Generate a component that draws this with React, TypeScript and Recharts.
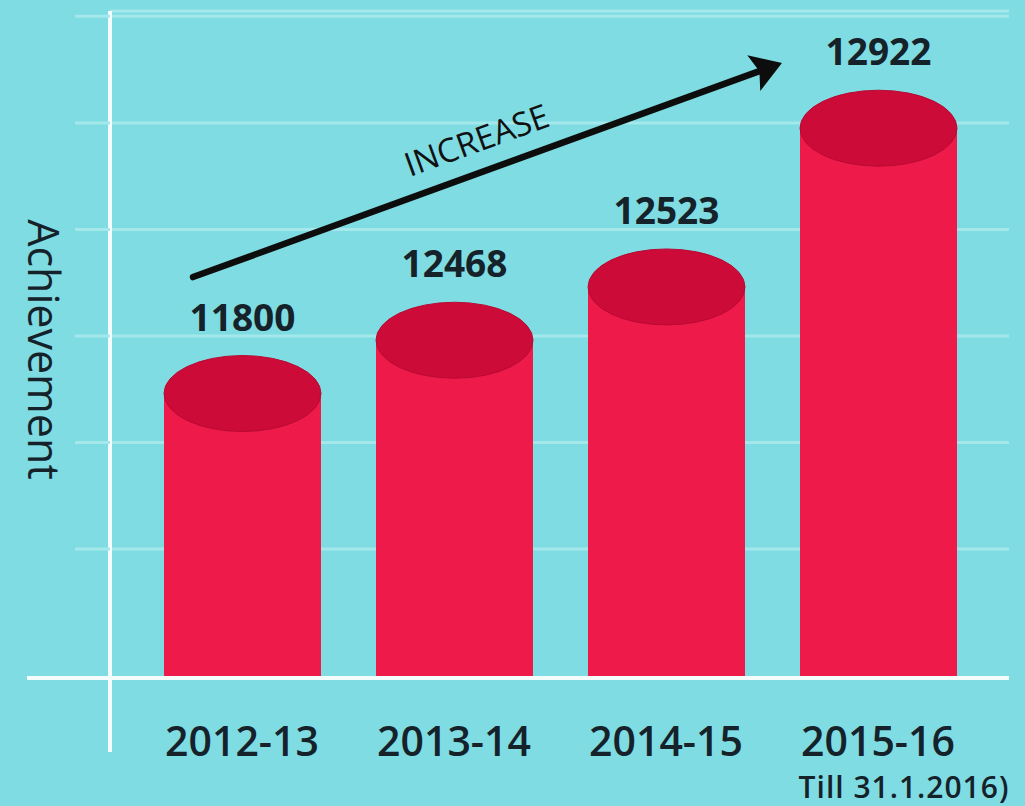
import React from "react";
import {
  BarChart,
  Bar,
  XAxis,
  YAxis,
  CartesianGrid,
  LabelList,
  ReferenceLine,
} from "recharts";

const years = ["2012-13", "2013-14", "2014-15", "2015-16"];
const achievement = [11800, 12468, 12523, 12922];
// bar heights as drawn in the infographic (one gridline step = 100)
const drawnHeight = [267, 317, 367, 516];
const yTicks = [0, 121, 221, 321, 421, 521, 621];
const footnotes = ["", "", "", "Till 31.1.2016)"];
// "INCREASE" arrow: guide line through the first and last bar centres,
// drawn from/to these fractions of that span
const arrowLevels = [393, 610];
const arrowSpan = [-0.077, 0.849];

const data = years.map((year, i) => ({
  year,
  height: drawnHeight[i],
  achievement: achievement[i],
}));

const BG = "#7edce2";
const BODY = "#ee1a49";
const TOP = "#cc0b38";
const INK = "#16222a";
const GRID = "#a4e8ec";
const AXIS = "#f4fcfc";
const FONT = "'Open Sans', 'DejaVu Sans', sans-serif";

const Cylinder = (props: any) => {
  const { x, y, width, height } = props;
  if (!height) return null;
  const cx = x + width / 2;
  return (
    <g>
      <rect x={x} y={y} width={width} height={height} fill={BODY} />
      <ellipse cx={cx} cy={y} rx={width / 2} ry={38} fill={TOP} stroke="#b80a33" strokeWidth={1} />
    </g>
  );
};

const ValueLabel = (props: any) => {
  const { x, y, width, value } = props;
  return (
    <text
      x={Number(x) + Number(width) / 2}
      y={Number(y) - 63}
      textAnchor="middle"
      fill={INK}
      fontFamily={FONT}
      fontWeight={700}
      fontSize={37}
    >
      {value}
    </text>
  );
};

const YearTick = (props: any) => {
  const { x, y, payload } = props;
  const i = years.indexOf(payload.value);
  const note = footnotes[i];
  return (
    <g>
      <text x={x} y={y + 78} textAnchor="middle" fill={INK} fontFamily={FONT} fontWeight={600} fontSize={41}>
        {payload.value}
      </text>
      {note ? (
        <text x={x + 26} y={y + 120} textAnchor="middle" fill={INK} fontFamily={FONT} fontWeight={600} fontSize={30} letterSpacing={1}>
          {note}
        </text>
      ) : null}
    </g>
  );
};

// y-axis ticks carry no text; they extend the gridlines and the axis cross to the left/bottom
const GridTick = (props: any) => {
  const { x, y, payload } = props;
  if (payload.value === 0) {
    return (
      <g>
        <line x1={x - 83} y1={y} x2={x} y2={y} stroke={AXIS} strokeWidth={4} />
        <line x1={x} y1={y} x2={x} y2={y + 74} stroke={AXIS} strokeWidth={4} />
      </g>
    );
  }
  return <line x1={x - 35} y1={y} x2={x} y2={y} stroke={GRID} strokeWidth={3} />;
};

const IncreaseArrow = (props: any) => {
  const { x1: gx1, y1: gy1, x2: gx2, y2: gy2 } = props;
  const x1 = gx1 + (gx2 - gx1) * arrowSpan[0];
  const y1 = gy1 + (gy2 - gy1) * arrowSpan[0];
  const x2 = gx1 + (gx2 - gx1) * arrowSpan[1];
  const y2 = gy1 + (gy2 - gy1) * arrowSpan[1];
  const dx = x2 - x1;
  const dy = y2 - y1;
  const len = Math.sqrt(dx * dx + dy * dy);
  const ux = dx / len;
  const uy = dy / len;
  // normal pointing "up" relative to the line
  const nx = uy;
  const ny = -ux;
  const head = 30;
  const half = 19;
  const notch = 6;
  const bx = x2 - ux * head;
  const by = y2 - uy * head;
  const angle = (Math.atan2(dy, dx) * 180) / Math.PI;
  const tx = (x1 + x2) / 2 + nx * 20;
  const ty = (y1 + y2) / 2 + ny * 20;
  return (
    <g>
      <line x1={x1} y1={y1} x2={bx + ux * notch} y2={by + uy * notch} stroke="#0d0d0d" strokeWidth={6.5} strokeLinecap="round" />
      <polygon
        points={`${x2},${y2} ${bx - nx * half},${by - ny * half} ${bx + ux * notch},${by + uy * notch} ${bx + nx * half},${by + ny * half}`}
        fill="#0d0d0d"
      />
      <text
        x={tx}
        y={ty}
        transform={`rotate(${angle}, ${tx}, ${ty})`}
        textAnchor="middle"
        fill="#111"
        fontFamily={FONT}
        fontWeight={500}
        fontSize={33}
      >
        INCREASE
      </text>
    </g>
  );
};

const AxisTitle = (props: any) => {
  const { viewBox } = props;
  const cy = viewBox.y + viewBox.height / 2 + 5;
  const x = viewBox.x + 28;
  return (
    <text
      x={x}
      y={cy}
      transform={`rotate(90, ${x}, ${cy})`}
      textAnchor="middle"
      fill={INK}
      fontFamily={FONT}
      fontSize={43}
    >
      Achievement
    </text>
  );
};

export default function App() {
  return (
    <div style={{ position: "absolute", left: 0, top: 0, width: 1025, height: 806, background: BG }}>
      <BarChart
        width={1025}
        height={806}
        data={data}
        margin={{ top: 11, right: 16, bottom: 0, left: 0 }}
      >
        <CartesianGrid vertical={false} stroke={GRID} strokeWidth={3} />
        <XAxis
          dataKey="year"
          height={128}
          padding={{ left: 26, right: 25 }}
          axisLine={{ stroke: AXIS, strokeWidth: 4 }}
          tickLine={false}
          tickSize={0}
          tickMargin={0}
          tick={<YearTick />}
          interval={0}
        />
        <YAxis
          width={110}
          domain={[0, 626]}
          ticks={yTicks}
          allowDataOverflow
          axisLine={{ stroke: AXIS, strokeWidth: 4 }}
          tickLine={false}
          tickSize={0}
          tickMargin={0}
          tick={<GridTick />}
          label={<AxisTitle />}
        />
        <Bar dataKey="height" barSize={157} shape={<Cylinder />} isAnimationActive={false}>
          <LabelList dataKey="achievement" content={<ValueLabel />} />
        </Bar>
        <ReferenceLine
          ifOverflow="visible"
          segment={[
            { x: years[0], y: arrowLevels[0] },
            { x: years[3], y: arrowLevels[1] },
          ]}
          shape={<IncreaseArrow />}
        />
      </BarChart>
    </div>
  );
}
